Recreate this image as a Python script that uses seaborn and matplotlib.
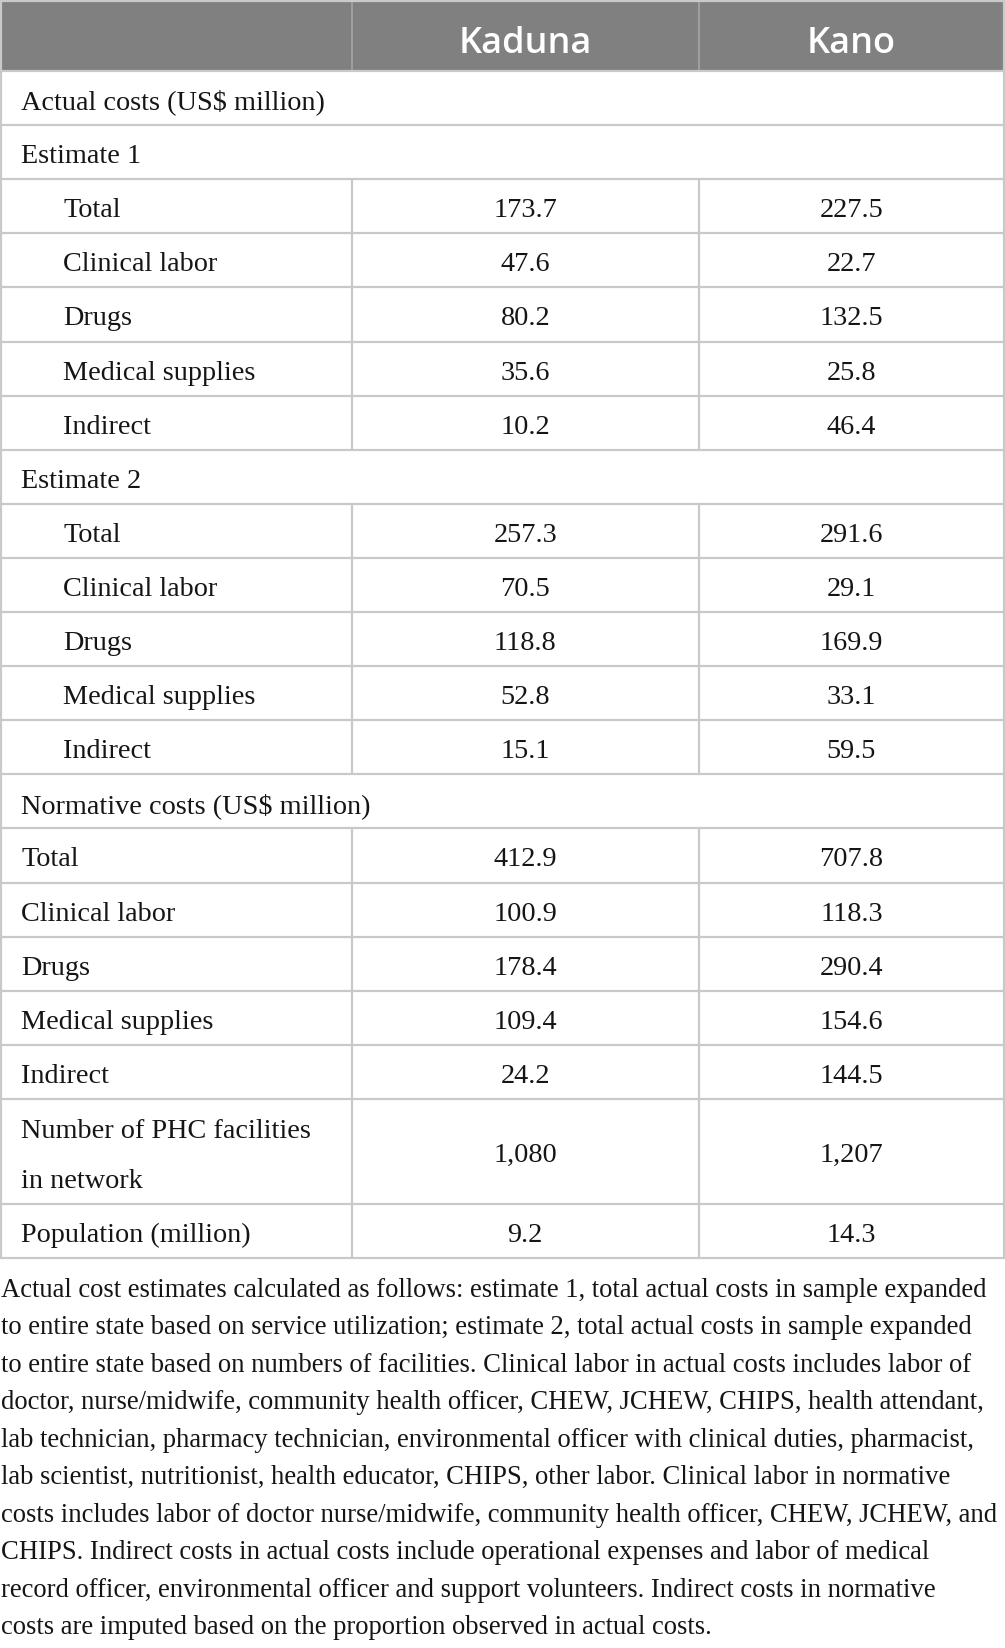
import matplotlib
matplotlib.use("Agg")
import matplotlib.pyplot as plt
import seaborn as sns
from matplotlib.patches import Rectangle

sns.set_theme(style="white")

# ---------------- data ----------------
columns = ["Kaduna", "Kano"]
row_labels = ["Actual costs (US$ million)", "Estimate 1", "Total", "Clinical labor", "Drugs",
              "Medical supplies", "Indirect", "Estimate 2", "Total", "Clinical labor", "Drugs",
              "Medical supplies", "Indirect", "Normative costs (US$ million)", "Total",
              "Clinical labor", "Drugs", "Medical supplies", "Indirect",
              "Number of PHC facilities\nin network", "Population (million)"]
row_kind = ["section", "section", "sub", "sub", "sub", "sub", "sub", "section", "sub", "sub",
            "sub", "sub", "sub", "section", "main", "main", "main", "main", "main", "main2", "main"]
kaduna = ["", "", "173.7", "47.6", "80.2", "35.6", "10.2", "", "257.3", "70.5", "118.8", "52.8",
          "15.1", "", "412.9", "100.9", "178.4", "109.4", "24.2", "1,080", "9.2"]
kano = ["", "", "227.5", "22.7", "132.5", "25.8", "46.4", "", "291.6", "29.1", "169.9", "33.1",
        "59.5", "", "707.8", "118.3", "290.4", "154.6", "144.5", "1,207", "14.3"]
footnote_lines = [
    "Actual cost estimates calculated as follows: estimate 1, total actual costs in sample expanded",
    "to entire state based on service utilization; estimate 2, total actual costs in sample expanded",
    "to entire state based on numbers of facilities. Clinical labor in actual costs includes labor of",
    "doctor, nurse/midwife, community health officer, CHEW, JCHEW, CHIPS, health attendant,",
    "lab technician, pharmacy technician, environmental officer with clinical duties, pharmacist,",
    "lab scientist, nutritionist, health educator, CHIPS, other labor. Clinical labor in normative",
    "costs includes labor of doctor nurse/midwife, community health officer, CHEW, JCHEW, and",
    "CHIPS. Indirect costs in actual costs include operational expenses and labor of medical",
    "record officer, environmental officer and support volunteers. Indirect costs in normative",
    "costs are imputed based on the proportion observed in actual costs.",
]

# ---------------- layout ----------------
W, H = 1005, 1649
fig = plt.figure(figsize=(W / 100, H / 100), dpi=100)
ax = fig.add_axes([0, 0, 1, 1])
ax.set_xlim(0, W)
ax.set_ylim(H, 0)
ax.axis("off")

serif = ["Liberation Serif", "DejaVu Serif"]
sans = ["Open Sans", "DejaVu Sans"]
body_size = 20.3
foot_size = 19.2
txt_col = "#151515"
line_col = "#c9c9c9"
head_col = "#7f807f"
lw = 1.6
dy = 3.5

x0, x1, x2, x3 = 1.0, 351.5, 699.0, 1004.0
header_top, header_bot = 1.5, 72.0
row_h = 54.1
two_h = 105.0

# header
ax.add_patch(Rectangle((x0, header_top), x3 - x0, header_bot - header_top,
                       facecolor=head_col, edgecolor="none", zorder=1))
for xc in (x1, x2):
    ax.plot([xc, xc], [header_top, header_bot], color="#a6a6a6", lw=1.2, zorder=2)
for name, xa, xb in zip(columns, (x1, x2), (x2, x3)):
    ax.text((xa + xb) / 2, (header_top + header_bot) / 2 + 7, name, ha="center", va="center",
            color="white", fontsize=26, fontweight="semibold", family=sans, zorder=3)

# rows
y = header_bot
hlines = [header_top, header_bot]
for lab, kind, a, b in zip(row_labels, row_kind, kaduna, kano):
    h = two_h if kind == "main2" else row_h
    yc = y + h / 2 + dy
    xt = 63 if kind == "sub" else 21
    if kind == "main2":
        l1, l2 = lab.split("\n")
        ax.text(xt, yc - 24.0, l1, ha="left", va="center", fontsize=body_size, family=serif,
                color=txt_col)
        ax.text(xt, yc + 25.5, l2, ha="left", va="center", fontsize=body_size, family=serif,
                color=txt_col)
    else:
        ax.text(xt, yc, lab, ha="left", va="center", fontsize=body_size, family=serif,
                color=txt_col)
    if kind != "section":
        for xc in (x1, x2):
            ax.plot([xc, xc], [y, y + h], color=line_col, lw=lw, zorder=2)
        ax.text((x1 + x2) / 2, yc, a, ha="center", va="center", fontsize=body_size,
                family=serif, color=txt_col)
        ax.text((x2 + x3) / 2, yc, b, ha="center", va="center", fontsize=body_size,
                family=serif, color=txt_col)
    y += h
    hlines.append(y)

for yy in hlines:
    ax.plot([x0, x3], [yy, yy], color=line_col, lw=lw, zorder=2)
ax.plot([x0, x0], [header_top, y], color=line_col, lw=lw, zorder=2)
ax.plot([x3, x3], [header_top, y], color=line_col, lw=lw, zorder=2)

# footnote
fy0 = y + 31.5
fstep = 37.45
for i, line in enumerate(footnote_lines):
    ax.text(1, fy0 + i * fstep, line, ha="left", va="center", fontsize=foot_size,
            family=serif, color=txt_col)

fig.savefig("out.png", dpi=100, facecolor="white")
